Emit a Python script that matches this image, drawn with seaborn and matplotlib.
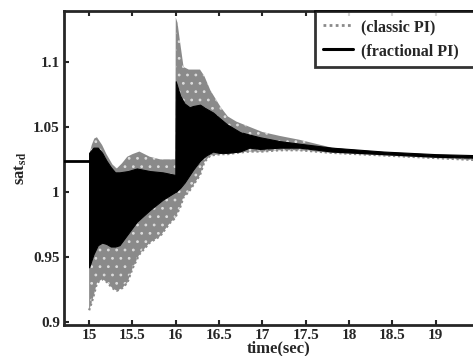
import numpy as np
import pandas as pd
import matplotlib
matplotlib.use("Agg")
import matplotlib.pyplot as plt
import seaborn as sns
from matplotlib.lines import Line2D

# ---------------- data ----------------
t_pre = [14.71, 15.0]
sat_pre = [1.024, 1.024]

t_frac = [15.0, 15.05, 15.1, 15.15, 15.2, 15.25, 15.3, 15.35, 15.45, 15.55, 15.7,
          15.85, 15.995, 16.0, 16.05, 16.1, 16.16, 16.2, 16.28, 16.35, 16.43, 16.5,
          16.59, 16.74, 16.85, 16.97, 17.2, 17.43, 17.8, 18.4, 19.0, 19.6]
frac_upper = [1.030, 1.034, 1.034, 1.030, 1.024, 1.019, 1.015, 1.015, 1.016, 1.018, 1.016,
              1.015, 1.013, 1.085, 1.074, 1.068, 1.065, 1.066, 1.067, 1.064, 1.061, 1.057,
              1.052, 1.046, 1.044, 1.042, 1.039, 1.037, 1.034, 1.031, 1.029, 1.028]
frac_lower = [0.942, 0.952, 0.959, 0.961, 0.960, 0.958, 0.958, 0.959, 0.968, 0.977, 0.986,
              0.994, 1.000, 1.000, 1.003, 1.007, 1.013, 1.017, 1.024, 1.028, 1.031, 1.030,
              1.030, 1.031, 1.034, 1.033, 1.034, 1.034, 1.031, 1.029, 1.027, 1.026]

t_classic = [15.0, 15.03, 15.06, 15.09, 15.15, 15.2, 15.27, 15.32, 15.38, 15.44, 15.5,
             15.58, 15.7, 15.82, 15.93, 15.995, 16.0, 16.02, 16.05, 16.09, 16.15, 16.28,
             16.33, 16.4, 16.52, 16.6, 16.7, 16.85, 17.0, 17.2, 17.43, 17.8, 18.4, 19.0, 19.6]
classic_upper = [1.028, 1.036, 1.041, 1.042, 1.036, 1.029, 1.021, 1.018, 1.022, 1.027, 1.029,
                 1.031, 1.027, 1.025, 1.025, 1.025, 1.134, 1.130, 1.115, 1.096, 1.094, 1.094,
                 1.089, 1.078, 1.065, 1.058, 1.054, 1.050, 1.046, 1.043, 1.040, 1.034, 1.030,
                 1.028, 1.027]
classic_lower = [0.909, 0.915, 0.922, 0.930, 0.933, 0.931, 0.926, 0.924, 0.926, 0.930, 0.941,
                 0.952, 0.961, 0.966, 0.976, 0.980, 0.981, 0.984, 0.988, 0.996, 1.000, 1.013,
                 1.023, 1.028, 1.029, 1.029, 1.030, 1.031, 1.031, 1.032, 1.032, 1.030, 1.028,
                 1.026, 1.024]

series_names = ["(classic PI)", "(fractional PI)"]
x_ticks = [15, 15.5, 16, 16.5, 17, 17.5, 18, 18.5, 19]
y_ticks = [0.9, 0.95, 1.0, 1.05, 1.1]
y_ticklabels = ["0.9", "0.95", "1", "1.05", "1.1"]

# ---------------- style ----------------
sns.set_style("ticks")
plt.rcParams["font.family"] = ["Liberation Serif", "DejaVu Serif"]
plt.rcParams["font.weight"] = "bold"
plt.rcParams["mathtext.fontset"] = "stix"
plt.rcParams["hatch.linewidth"] = 0.8

W, H = 473, 356
PX_PER_UNIT = 86.64
x0 = 14.71
ax_w_px = 430
fig = plt.figure(figsize=(W / 100, H / 100), dpi=100)
ax = fig.add_axes([64 / W, (H - 325) / H, ax_w_px / W, 314 / H])

gray = "#8a8a8a"

# classic PI band (gray, dotted texture)
ax.fill_between(t_classic, classic_lower, classic_upper, facecolor=gray,
                edgecolor="#dcdcdc", hatch="..", linewidth=0, zorder=2)
sns.lineplot(x=t_classic, y=classic_lower, ax=ax, color=gray, lw=1.6,
             linestyle=(0, (1, 1.2)), zorder=2.5)

# fractional PI band (black)
ax.fill_between(t_frac, frac_lower, frac_upper, facecolor="black",
                edgecolor="black", linewidth=0.8, zorder=3)

# pre-step constant segment
sns.lineplot(x=t_pre, y=sat_pre, ax=ax, color="black", lw=2, zorder=4)

ax.set_xlim(x0, x0 + ax_w_px / PX_PER_UNIT)
ax.set_ylim(0.8977, 1.139)
ax.set_xticks(x_ticks)
ax.set_xticklabels([f"{v:g}" for v in x_ticks])
ax.set_yticks(y_ticks)
ax.set_yticklabels(y_ticklabels)

for s in ax.spines.values():
    s.set_linewidth(2)
    s.set_visible(True)
ax.tick_params(direction="in", length=3.5, width=1.5, labelsize=11, pad=3,
               top=True, right=True)
for lab in ax.get_xticklabels() + ax.get_yticklabels():
    lab.set_fontweight("bold")

ax.set_xlabel("time(sec)", fontsize=12, fontweight="bold", labelpad=-1)
ax.set_ylabel(r"sat$_{\mathbf{sd}}$", fontsize=12, fontweight="bold", labelpad=3)

handles = [Line2D([], [], color=gray, lw=2, linestyle=(0, (1, 1.2))),
           Line2D([], [], color="black", lw=2.2)]
leg_x = (315 - 64) / ax_w_px
leg = ax.legend(handles, series_names, loc="upper left",
                bbox_to_anchor=(leg_x, 0.0, 1.15 - leg_x, 1.0), mode="expand",
                borderaxespad=0, frameon=True, fancybox=False, handlelength=1.9,
                prop={"weight": "bold", "size": 11.5}, labelspacing=0.5,
                borderpad=0.5, handletextpad=0.45)
leg.get_frame().set_edgecolor("black")
leg.get_frame().set_linewidth(2)
leg.set_zorder(10)

fig.savefig("out.png", dpi=100)
